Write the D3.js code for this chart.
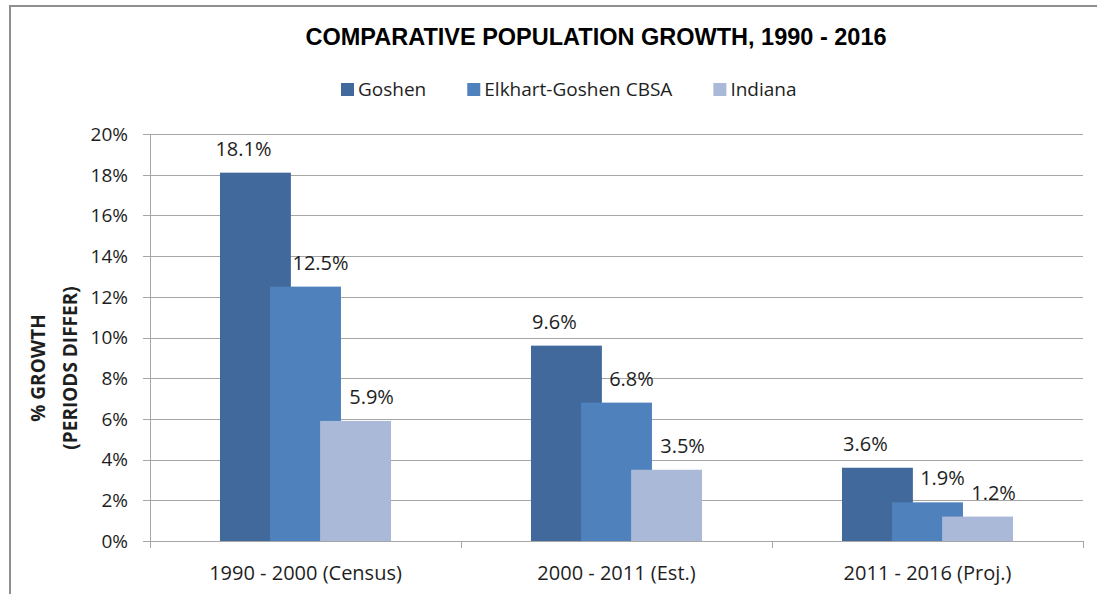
<!DOCTYPE html>
<html>
<head>
<meta charset="utf-8">
<script src="https://cdn.jsdelivr.net/npm/d3@7"></script>
<style>
  html, body { margin: 0; padding: 0; background: #ffffff; }
  svg { display: block; }
  text { font-family: "Open Sans", sans-serif; fill: #1e1e1e; }
</style>
</head>
<body>
<svg id="chart" width="1097" height="594"></svg>
<script>
// ---- data ----
const categories = ["1990 - 2000 (Census)", "2000 - 2011 (Est.)", "2011 - 2016 (Proj.)"];
const seriesNames = ["Goshen", "Elkhart-Goshen CBSA", "Indiana"];
const goshen = [0.181, 0.096, 0.036];
const elkhart = [0.125, 0.068, 0.019];
const indiana = [0.059, 0.035, 0.012];
const yTicks = [0, 0.02, 0.04, 0.06, 0.08, 0.10, 0.12, 0.14, 0.16, 0.18, 0.20];
const titleText = "COMPARATIVE POPULATION GROWTH, 1990 - 2016";
const yLabelLines = ["% GROWTH", "(PERIODS DIFFER)"];

// ---- styles ----
const colors = ["#41699b", "#4f81bd", "#aab9d7"];
const labelDx = [-12, 15, 16];
const seriesValues = [goshen, elkhart, indiana];

const svg = d3.select("#chart");

// chart border
svg.append("rect")
  .attr("x", 10).attr("y", 6)
  .attr("width", 1200).attr("height", 700)
  .attr("fill", "none").attr("stroke", "#8f8f8f").attr("stroke-width", 2);

const plot = { left: 150, right: 1083, top: 134, bottom: 541 };

const x = d3.scaleBand().domain(categories).range([plot.left, plot.right]).padding(0);
const y = d3.scaleLinear().domain([0, 0.20]).range([plot.bottom, plot.top]);

// gridlines
svg.append("g").selectAll("line").data(yTicks).join("line")
  .attr("x1", plot.left - 7).attr("x2", plot.right)
  .attr("y1", d => Math.round(y(d)) + 0.5).attr("y2", d => Math.round(y(d)) + 0.5)
  .attr("stroke", "#a6a6a6").attr("stroke-width", 1);

// y axis line
svg.append("line")
  .attr("x1", plot.left + 0.5).attr("x2", plot.left + 0.5)
  .attr("y1", plot.top).attr("y2", plot.bottom + 6)
  .attr("stroke", "#a6a6a6");

// x ticks
const xTickPos = categories.map(c => x(c)).concat([plot.right]);
svg.append("g").selectAll("line").data(xTickPos).join("line")
  .attr("x1", d => Math.round(d) + 0.5).attr("x2", d => Math.round(d) + 0.5)
  .attr("y1", plot.bottom).attr("y2", plot.bottom + 7)
  .attr("stroke", "#a6a6a6");

// y tick labels
const fmt = d3.format(".0%");
svg.append("g").selectAll("text").data(yTicks).join("text")
  .attr("x", 128).attr("y", d => y(d))
  .attr("dy", "0.36em")
  .attr("text-anchor", "end")
  .attr("font-size", 19)
  .text(d => fmt(d));

// bars
const bw = x.bandwidth();
const groupOffset = bw * 0.225;
const step = bw * 0.161;
const barW = bw * 0.228;

seriesValues.forEach((vals, si) => {
  const g = svg.append("g");
  g.selectAll("rect").data(vals).join("rect")
    .attr("x", (d, i) => x(categories[i]) + groupOffset + step * si)
    .attr("y", d => y(d))
    .attr("width", barW)
    .attr("height", d => y(0) - y(d))
    .attr("fill", colors[si]);
});

// data labels (drawn after bars)
const lblFmt = d3.format(".1%");
seriesValues.forEach((vals, si) => {
  svg.append("g").selectAll("text").data(vals).join("text")
    .attr("x", (d, i) => x(categories[i]) + groupOffset + step * si + barW / 2 + labelDx[si])
    .attr("y", d => y(d) - 17)
    .attr("text-anchor", "middle")
    .attr("font-size", 20)
    .text(d => lblFmt(d));
});

// x labels
svg.append("g").selectAll("text").data(categories).join("text")
  .attr("x", d => x(d) + bw / 2)
  .attr("y", 580)
  .attr("text-anchor", "middle")
  .attr("font-size", 20)
  .text(d => d);

// title
svg.append("text")
  .attr("x", 596).attr("y", 45)
  .attr("text-anchor", "middle")
  .style("font-family", "'Liberation Sans', Arial, sans-serif")
  .style("font-weight", "bold")
  .attr("font-size", 23.5)
  .style("fill", "#000")
  .text(titleText);

// y axis title
[45, 77].forEach((bx, i) => {
  svg.append("text")
    .attr("transform", `translate(${bx},368) rotate(-90)`)
    .attr("text-anchor", "middle")
    .attr("font-size", 19)
    .style("font-weight", "bold")
    .text(yLabelLines[i]);
});

// legend
const legend = svg.append("g");
let lx = 341;
seriesNames.forEach((name, i) => {
  legend.append("rect")
    .attr("x", lx).attr("y", 83)
    .attr("width", 13).attr("height", 13)
    .attr("fill", colors[i]);
  const t = legend.append("text")
    .attr("x", lx + 17).attr("y", 96)
    .attr("font-size", 19)
    .text(name);
  lx += 17 + t.node().getComputedTextLength() + 41;
});
</script>
</body>
</html>
